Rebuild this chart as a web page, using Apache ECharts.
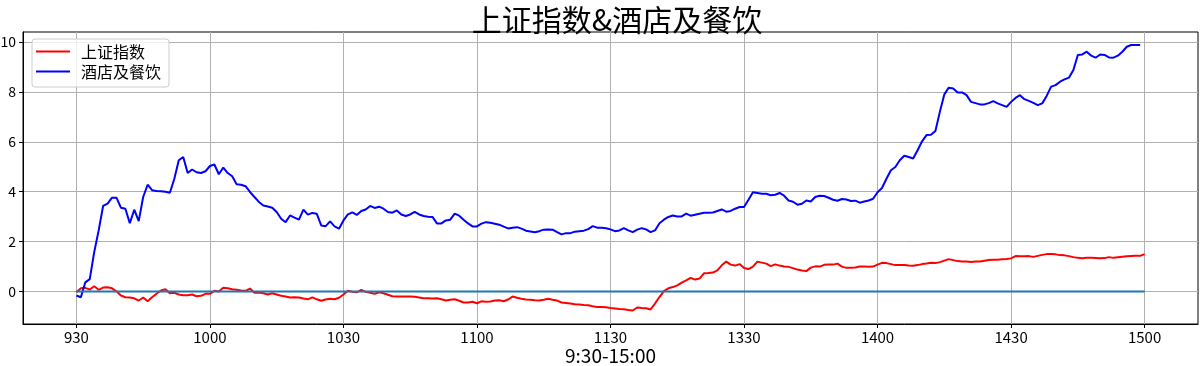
<!DOCTYPE html>
<html><head><meta charset="utf-8">
<script src="https://cdn.jsdelivr.net/npm/echarts@6/dist/echarts.min.js"></script>
<style>html,body{margin:0;padding:0;background:#fff}#c{width:1200px;height:366px}</style>
</head><body><div id="c"></div>
<script>
// x tick labels (minute index every 30 points)
const tickLabels = ['930','1000','1030','1100','1130','1330','1400','1430','1500'];
const tickStep = 30;
const yTicks = [0, 2, 4, 6, 8, 10];

// 上证指数 (% change), index 0..240
const szIndex = [
 -0.03,0.13,0.15,0.08,0.21,0.07,0.16,0.17,0.13,0.01,-0.16,-0.23,-0.24,-0.27,-0.36,-0.24,-0.39,-0.23,-0.09,0.04,
 0.09,-0.07,-0.05,-0.12,-0.15,-0.15,-0.12,-0.19,-0.17,-0.09,-0.09,0.03,0.0,0.15,0.13,0.09,0.07,0.04,0.03,0.12,
 -0.05,-0.04,-0.07,-0.12,-0.07,-0.12,-0.17,-0.2,-0.24,-0.23,-0.24,-0.28,-0.31,-0.23,-0.31,-0.37,-0.32,-0.29,-0.31,-0.25,
 -0.12,
 0.03,-0.01,-0.03,0.07,-0.01,-0.05,-0.09,-0.03,-0.07,-0.13,-0.19,-0.2,-0.2,-0.2,-0.2,-0.21,-0.24,-0.27,-0.27,-0.28,
 -0.27,-0.31,-0.36,-0.33,-0.31,-0.37,-0.44,-0.44,-0.41,-0.47,-0.39,-0.41,-0.40,-0.36,-0.35,-0.39,-0.32,-0.20,-0.25,-0.29,
 -0.32,-0.33,-0.35,-0.36,-0.33,-0.29,-0.33,-0.36,-0.44,-0.46,-0.48,-0.51,-0.52,-0.54,-0.55,-0.59,-0.62,-0.62,-0.63,-0.66,
 -0.68,-0.70,-0.71,-0.74,-0.76,-0.64,-0.66,-0.67,-0.72,-0.48,-0.22,0.02,0.13,0.18,0.25,0.36,0.45,0.55,0.48,0.52,
 0.73,0.74,0.76,0.85,1.05,1.2,1.08,1.04,1.1,0.94,0.9,1.0,1.2,1.16,1.12,1.02,1.09,1.04,1.0,0.99,
 0.94,0.88,0.84,0.82,0.96,1.01,1.0,1.07,1.08,1.08,1.12,1.0,0.95,0.95,0.96,1.0,1.0,0.99,1.0,1.08,
 1.15,1.14,1.10,1.06,1.06,1.06,1.04,1.03,1.06,1.10,1.12,1.15,1.14,1.18,1.24,1.30,1.26,1.22,1.20,1.20,
 1.18,1.20,1.20,1.23,1.26,1.27,1.27,1.29,1.30,1.33,1.42,1.41,1.41,1.42,1.39,1.43,1.47,1.50,1.50,1.49,
 1.46,1.45,1.42,1.38,1.35,1.33,1.35,1.35,1.34,1.33,1.34,1.38,1.35,1.37,1.39,1.41,1.42,1.43,1.43,1.50
];

// 酒店及餐饮 (% change), index 0..239
const hotel = [
 -0.16,-0.23,0.37,0.5,1.58,2.45,3.43,3.52,3.76,3.76,3.36,3.32,2.74,3.28,2.82,3.79,4.28,4.06,4.03,4.02,
 4.0,3.96,4.52,5.26,5.39,4.75,4.89,4.78,4.75,4.82,5.03,5.09,4.70,4.97,4.75,4.62,4.30,4.28,4.22,3.99,
 3.79,3.59,3.45,3.41,3.36,3.19,2.92,2.78,3.05,2.96,2.88,3.28,3.08,3.15,3.12,2.65,2.62,2.81,2.61,2.52,
 2.85,
 3.09,3.17,3.07,3.23,3.29,3.43,3.35,3.40,3.32,3.19,3.16,3.25,3.09,3.03,3.09,3.19,3.09,3.03,3.0,2.99,
 2.73,2.73,2.85,2.88,3.12,3.04,2.88,2.73,2.61,2.61,2.72,2.78,2.76,2.72,2.68,2.60,2.53,2.56,2.58,2.52,
 2.44,2.41,2.38,2.42,2.48,2.49,2.48,2.38,2.29,2.34,2.34,2.40,2.42,2.44,2.50,2.62,2.56,2.56,2.54,2.49,
 2.42,2.45,2.54,2.45,2.38,2.48,2.54,2.49,2.38,2.45,2.74,2.88,2.99,3.05,3.01,3.01,3.12,3.04,3.08,3.12,
 3.16,3.16,3.17,3.23,3.29,3.20,3.23,3.32,3.39,3.39,3.68,3.98,3.95,3.92,3.92,3.86,3.88,3.95,3.84,3.65,
 3.60,3.48,3.52,3.65,3.61,3.79,3.84,3.83,3.76,3.68,3.64,3.71,3.69,3.63,3.64,3.56,3.61,3.65,3.72,3.98,
 4.15,4.52,4.86,4.99,5.26,5.44,5.39,5.33,5.66,6.02,6.27,6.28,6.43,7.20,7.90,8.17,8.14,7.98,7.98,7.87,
 7.60,7.55,7.50,7.50,7.55,7.63,7.54,7.47,7.40,7.60,7.76,7.87,7.71,7.64,7.56,7.47,7.54,7.84,8.21,8.27,
 8.41,8.50,8.57,8.88,9.48,9.50,9.61,9.45,9.37,9.50,9.48,9.38,9.37,9.45,9.61,9.81,9.88,9.88,9.88
];

const baseLevel = 0;
const lastIndex = (tickLabels.length - 1) * tickStep;
const xTickValues = tickLabels.map((_, k) => k * tickStep);

const chart = echarts.init(document.getElementById('c'), null, {renderer: 'canvas'});
const cjk = '"Noto Sans CJK SC", "Noto Sans", sans-serif';
chart.setOption({
  animation: false,
  backgroundColor: '#fff',
  title: {
    text: '上证指数&酒店及餐饮',
    left: 612, top: 0, textAlign: 'center',
    textStyle: {fontFamily: cjk, fontSize: 30, fontWeight: 'normal', color: '#000'}
  },
  legend: {
    data: ['上证指数', '酒店及餐饮'],
    orient: 'vertical', left: 32, top: 39,
    padding: [4, 8, 7, 4], itemGap: 3,
    itemWidth: 34, itemHeight: 2, icon: 'rect',
    borderColor: '#cccccc', borderWidth: 1, borderRadius: 3,
    backgroundColor: 'rgba(255,255,255,0.8)',
    textStyle: {fontFamily: cjk, fontSize: 16, color: '#000', lineHeight: 17, padding: [0, 0, 0, 6]}
  },
  grid: {left: 23, right: 2, top: 32, bottom: 42, show: true, borderColor: '#000', borderWidth: 1,
    backgroundColor: 'transparent', containLabel: false, outerBoundsMode: 'none'},
  xAxis: {
    type: 'value', min: -12, max: 252,
    name: '9:30-15:00', nameLocation: 'middle', nameGap: 22, nameMoveOverlap: false,
    nameTextStyle: {fontFamily: cjk, fontSize: 19, color: '#000', verticalAlign: 'top'},
    axisLine: {show: true, onZero: false, lineStyle: {color: '#000', width: 1}},
    axisTick: {show: true, length: 4, lineStyle: {color: '#000'}, customValues: xTickValues},
    axisLabel: {customValues: xTickValues, margin: 6, fontFamily: cjk, fontSize: 15, color: '#000',
      formatter: v => tickLabels[Math.round(v / tickStep)] || ''},
    splitLine: {show: true, lineStyle: {color: '#b0b0b0', width: 1}}
  },
  yAxis: {
    type: 'value', min: -1.3, max: 10.4,
    axisLine: {show: true, onZero: false, lineStyle: {color: '#000', width: 1}},
    axisTick: {show: true, length: 4, lineStyle: {color: '#000'}, customValues: yTicks},
    axisLabel: {customValues: yTicks, margin: 7, fontFamily: cjk, fontSize: 14, color: '#000'},
    splitLine: {show: true, lineStyle: {color: '#b0b0b0', width: 1}}
  },
  series: [
    {name: '上证指数', type: 'line', symbol: 'none', color: '#ff0000',
      lineStyle: {color: '#ff0000', width: 2}, data: szIndex.map((v, i) => [i, v]), z: 3},
    {name: '酒店及餐饮', type: 'line', symbol: 'none', color: '#0000ff',
      lineStyle: {color: '#0000ff', width: 2}, data: hotel.map((v, i) => [i, v]), z: 4},
    {name: 'base', type: 'line', symbol: 'none', color: '#1f77b4',
      lineStyle: {color: '#1f77b4', width: 2}, data: [[0, baseLevel], [lastIndex, baseLevel]], z: 5}
  ]
});
</script>
</body></html>
